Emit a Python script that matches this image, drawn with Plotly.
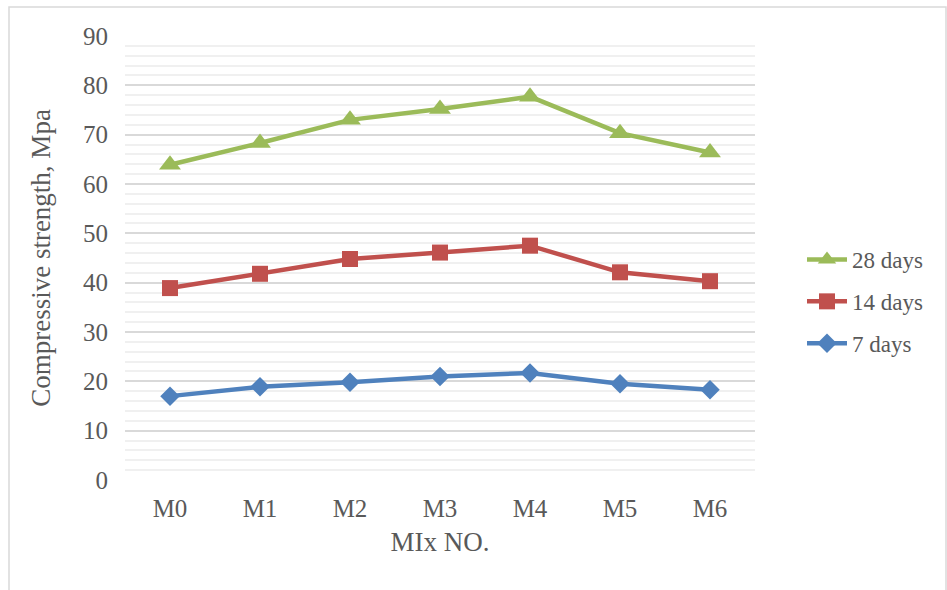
import plotly.graph_objects as go

mixes = ["M0", "M1", "M2", "M3", "M4", "M5", "M6"]
days_7 = [17.0, 18.9, 19.8, 21.0, 21.7, 19.5, 18.3]
days_14 = [38.9, 41.8, 44.8, 46.1, 47.5, 42.1, 40.3]
days_28 = [63.9, 68.3, 73.0, 75.2, 77.7, 70.3, 66.4]

FONT = "Liberation Serif, Times New Roman, serif"
TEXT = "#595959"

fig = go.Figure()
series = [
    ("28 days", days_28, "#9BBB59", "triangle-up", 19),
    ("14 days", days_14, "#C0504D", "square", 16),
    ("7 days", days_7, "#4F81BD", "diamond", 15),
]
for name, vals, color, sym, size in series:
    fig.add_trace(go.Scatter(
        x=mixes, y=vals, name=name, mode="lines+markers",
        legendgroup=name,
        line=dict(color=color, width=4.5),
        marker=dict(symbol=sym, size=size, color=color),
    ))

L, R, T, B = 125, 192, 36, 110
W, H = 947, 590
pw, ph = W - L - R, H - T - B

def px_x(p):
    return (p - L) / pw

def px_y(p):
    return (H - B - p) / ph

# light frame around the chart area
fig.add_shape(type="rect", xref="paper", yref="paper",
              x0=px_x(9), x1=px_x(946), y0=px_y(600), y1=px_y(7),
              line=dict(color="#D9D9D9", width=1.5), layer="below")

fig.update_layout(
    width=W, height=H,
    margin=dict(l=L, r=R, t=T, b=B),
    paper_bgcolor="white", plot_bgcolor="white",
    font=dict(family=FONT, color=TEXT, size=25),
    showlegend=True,
    legend=dict(
        x=px_x(802), y=px_y(238), xanchor="left", yanchor="top",
        traceorder="grouped", font=dict(size=23, color=TEXT),
        itemwidth=40, tracegroupgap=9, bgcolor="rgba(0,0,0,0)",
    ),
    xaxis=dict(
        range=[-0.5, 6.5], showgrid=False, zeroline=False, showline=False,
        ticks="", ticklabelstandoff=11, tickfont=dict(size=25),
        title=dict(text="MIx NO.", font=dict(size=27, color=TEXT), standoff=11),
    ),
    yaxis=dict(
        range=[0, 90], dtick=10, tick0=0,
        showgrid=True, gridcolor="#D9D9D9", gridwidth=1.5,
        zeroline=False, showline=False, ticks="",
        ticklabelstandoff=16, tickfont=dict(size=25),
        minor=dict(dtick=2, tick0=0, showgrid=True, gridcolor="#F0F0F0", gridwidth=1.5),
        title=dict(text="Compressive strength, Mpa", font=dict(size=27, color=TEXT), standoff=24),
    ),
)

fig.write_html("out.html")
